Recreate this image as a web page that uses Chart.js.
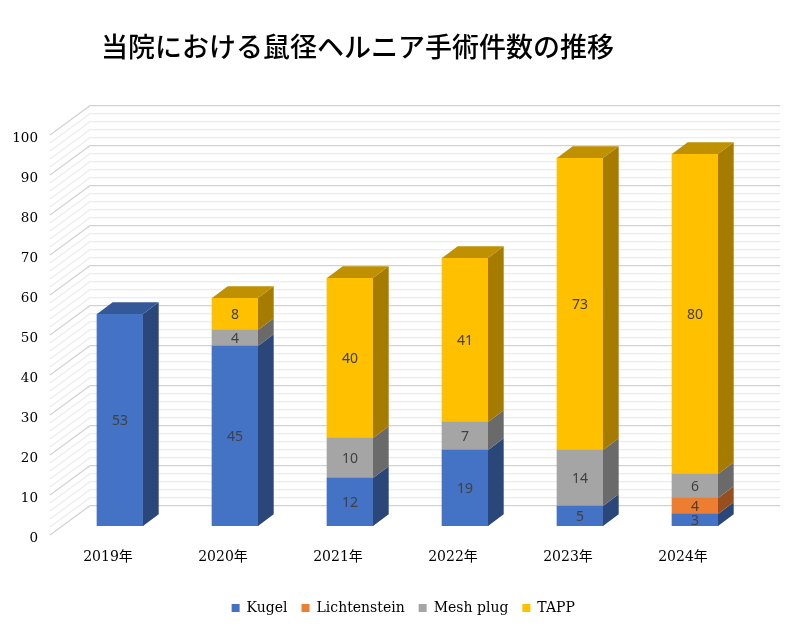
<!DOCTYPE html>
<html>
<head>
<meta charset="utf-8">
<style>body{margin:0;background:#fff}canvas{display:block}</style>
<script src="https://cdn.jsdelivr.net/npm/chart.js@4/dist/chart.umd.min.js"></script>
</head>
<body>
<canvas id="c" width="800" height="628"></canvas>
<script>
const years = ["2019年","2020年","2021年","2022年","2023年","2024年"];
const kugel = [53,45,12,19,5,3];
const lichtenstein = [null,null,null,null,null,4];
const meshPlug = [null,4,10,7,14,6];
const tapp = [null,8,40,41,73,80];

const SERIF = '"DejaVu Serif","Noto Sans CJK JP",serif';
const FRONT = ["#4472C4","#ED7D31","#A5A5A5","#FFC000"];
const SIDE = ["#2B4779","#96501F","#6A6A6A","#A67C00"];
const TOP = ["#355899","#B96125","#818181","#BF9000"];

// bar depth, and offset of the back wall relative to the bars
const BAR_DX = 15.7, BAR_DY = -11.7;
const BACK_X0 = 90, BACK_X1 = 780, BACK_DY = -20.3;
const WALL_X = 50, WALL_DY = 9;

function poly(ctx, pts, color){
  ctx.fillStyle = color;
  ctx.beginPath();
  pts.forEach((p,i) => i ? ctx.lineTo(p[0],p[1]) : ctx.moveTo(p[0],p[1]));
  ctx.closePath();
  ctx.fill();
}

const box3d = {
  id:"box3d",
  afterLayout(chart){
    chart.titleBlock.left = 101;
    chart.legend.left += 27;
    chart.legend.right += 27;
    chart.legend.top -= 3;
    chart.legend.bottom -= 3;
  },
  beforeDatasetsDraw(chart){
    const ctx = chart.ctx, y = chart.scales.y;
    ctx.save();
    ctx.lineWidth = 1.2;
    // minors first so the majors sit on top
    [false,true].forEach(major => {
      ctx.strokeStyle = major ? "#d2d2d2" : "#ececec";
      y.ticks.forEach(t => {
        if((t.value % 10 === 0) !== major) return;
        const py = y.getPixelForValue(t.value);
        ctx.beginPath();
        ctx.moveTo(WALL_X, py + WALL_DY);
        ctx.lineTo(BACK_X0, py + BACK_DY);
        ctx.lineTo(BACK_X1, py + BACK_DY);
        ctx.stroke();
      });
    });
    ctx.restore();
  },
  afterDatasetsDraw(chart){
    const ctx = chart.ctx;
    years.forEach((_,i) => {
      let last = -1;
      chart.data.datasets.forEach((ds,d) => {
        if(ds.data[i] == null) return;
        const b = chart.getDatasetMeta(d).data[i];
        const r = b.x + b.width/2;
        poly(ctx, [[r,b.base],[r+BAR_DX,b.base+BAR_DY],[r+BAR_DX,b.y+BAR_DY],[r,b.y]], SIDE[d]);
        last = d;
      });
      const b = chart.getDatasetMeta(last).data[i];
      const l = b.x - b.width/2, r = b.x + b.width/2;
      poly(ctx, [[l,b.y],[l+BAR_DX,b.y+BAR_DY],[r+BAR_DX,b.y+BAR_DY],[r,b.y]], TOP[last]);
    });
    // value labels
    ctx.save();
    ctx.font = '14px "Noto Sans"';
    ctx.fillStyle = "#404040";
    ctx.textAlign = "center";
    ctx.textBaseline = "middle";
    chart.data.datasets.forEach((ds,d) => {
      chart.getDatasetMeta(d).data.forEach((b,i) => {
        if(ds.data[i] == null) return;
        ctx.fillText(ds.data[i], b.x, (b.y + b.base)/2 + 1.5);
      });
    });
    ctx.restore();
  }
};

new Chart(document.getElementById("c").getContext("2d"), {
  type:"bar",
  data:{
    labels:years,
    datasets:[
      { label:"Kugel", data:kugel, backgroundColor:FRONT[0] },
      { label:"Lichtenstein", data:lichtenstein, backgroundColor:FRONT[1] },
      { label:"Mesh plug", data:meshPlug, backgroundColor:FRONT[2] },
      { label:"TAPP", data:tapp, backgroundColor:FRONT[3] }
    ]
  },
  options:{
    responsive:false,
    animation:false,
    devicePixelRatio:1,
    barThickness:46,
    layout:{ padding:{ left:0, right:47.5, top:0, bottom:0 } },
    plugins:{
      tooltip:{ enabled:false },
      title:{
        display:true,
        text:"当院における鼠径ヘルニア手術件数の推移",
        align:"start",
        color:"#000",
        font:{ family:'"Noto Sans CJK JP"', size:27, weight:"500", lineHeight:1.2 },
        padding:{ top:30.8, bottom:62.8 }
      },
      legend:{
        position:"bottom",
        labels:{ boxWidth:8, boxHeight:8, padding:14, color:"#000", font:{ family:SERIF, size:14 } }
      }
    },
    scales:{
      x:{
        stacked:true,
        grid:{ display:false, drawTicks:false },
        border:{ display:false },
        afterFit(s){ s.height = 64; },
        ticks:{ color:"#000", padding:23, labelOffset:-12, maxRotation:0, font:{ family:SERIF, size:14 } }
      },
      y:{
        stacked:true,
        min:0,
        max:100,
        grid:{ display:false, drawTicks:false },
        border:{ display:false },
        afterFit(s){ s.width = 62.5; },
        ticks:{
          stepSize:2,
          autoSkip:false,
          color:"#000",
          padding:24.5,
          labelOffset:12,
          font:{ family:SERIF, size:13.5 },
          callback:v => v % 10 === 0 ? v : ""
        }
      }
    }
  },
  plugins:[box3d]
});
</script>
</body>
</html>
